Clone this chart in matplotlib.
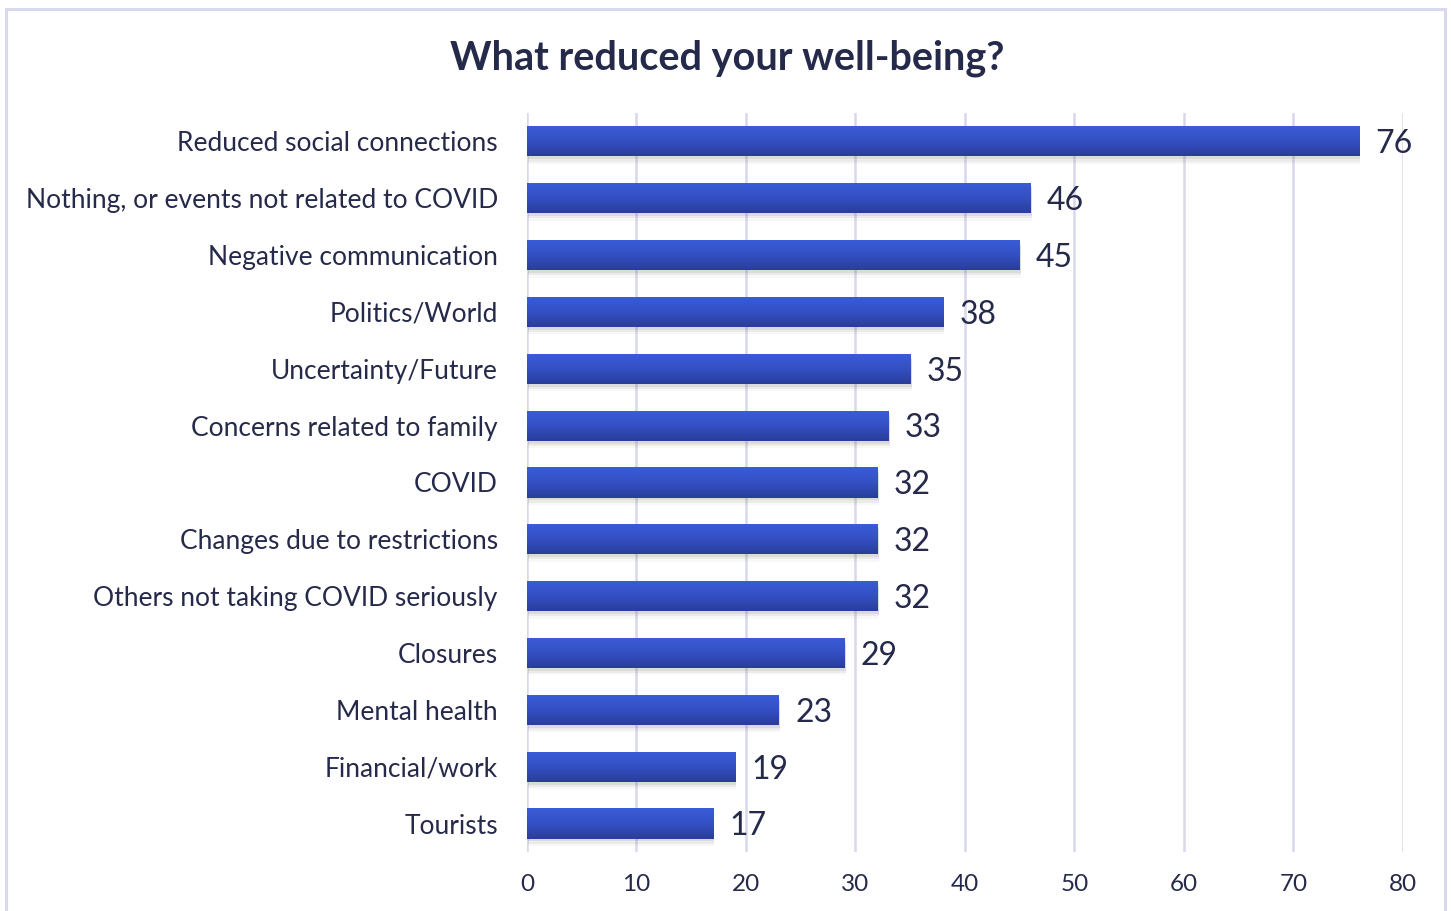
import numpy as np
import matplotlib
matplotlib.use("Agg")
from matplotlib import pyplot as plt
from matplotlib.colors import LinearSegmentedColormap
from matplotlib.patches import Rectangle

categories = ["Reduced social connections", "Nothing, or events not related to COVID",
              "Negative communication", "Politics/World", "Uncertainty/Future",
              "Concerns related to family", "COVID", "Changes due to restrictions",
              "Others not taking COVID seriously", "Closures", "Mental health",
              "Financial/work", "Tourists"]
values = [76, 46, 45, 38, 35, 33, 32, 32, 32, 29, 23, 19, 17]
xticks = [0, 10, 20, 30, 40, 50, 60, 70, 80]

plt.rcParams['font.family'] = ['Lato', 'DejaVu Sans']
txt = '#262a4a'
grid_col = '#d8d8ec'

fig = plt.figure(figsize=(14.51, 9.11), dpi=100)
ax = fig.add_axes([0.3632, 0.0648, 0.6037, 0.8112])

# chart frame
fig.patches.append(Rectangle((0.004, -0.01), 0.992, 1.0, transform=fig.transFigure,
                             fill=False, edgecolor='#d9d9ee', linewidth=2.2))

y = np.arange(len(categories))
h = 0.53
grad = LinearSegmentedColormap.from_list('bar', ['#3a5cd8', '#3550c4', '#2a3d9c'])
gimg = np.linspace(0, 1, 64).reshape(-1, 1)

# soft shadow under each bar
for k, a in [(0.05, 0.10), (0.09, 0.07), (0.13, 0.04)]:
    ax.barh(y + k, values, height=h, left=0.12, color='#505050', alpha=a,
            linewidth=0, zorder=2)

bars = ax.barh(y, values, height=h, color='#3550c4', linewidth=0, zorder=3)
for b in bars:
    x0, y0 = b.get_x(), b.get_y()
    im = ax.imshow(gimg, cmap=grad, aspect='auto', zorder=4,
                   extent=[x0, x0 + b.get_width(), y0 + b.get_height(), y0])
    im.set_clip_path(b)

for yi, v in zip(y, values):
    ax.text(v + 1.5, yi + 0.05, str(v), va='center', ha='left', fontsize=23, color=txt)

ax.set_xlim(0, 80)
ax.set_ylim(len(categories) - 0.5, -0.5)
ax.set_xticks(xticks)
ax.set_xticklabels([str(t) for t in xticks], fontsize=17.5, color=txt)
ax.tick_params(length=0)
ax.tick_params(axis='x', pad=16)
ax.set_yticks(y)
ax.set_yticklabels(categories, fontsize=19, color=txt)
ax.tick_params(axis='y', pad=21)
ax.xaxis.grid(True, color=grid_col, linewidth=1.8, zorder=0)
ax.set_axisbelow(True)
for s in ax.spines.values():
    s.set_visible(False)

fig.text(0.501, 0.936, "What reduced your well-being?", ha='center', va='center',
         fontsize=28.5, fontweight='bold', color=txt)

fig.savefig("out.png", dpi=100)
